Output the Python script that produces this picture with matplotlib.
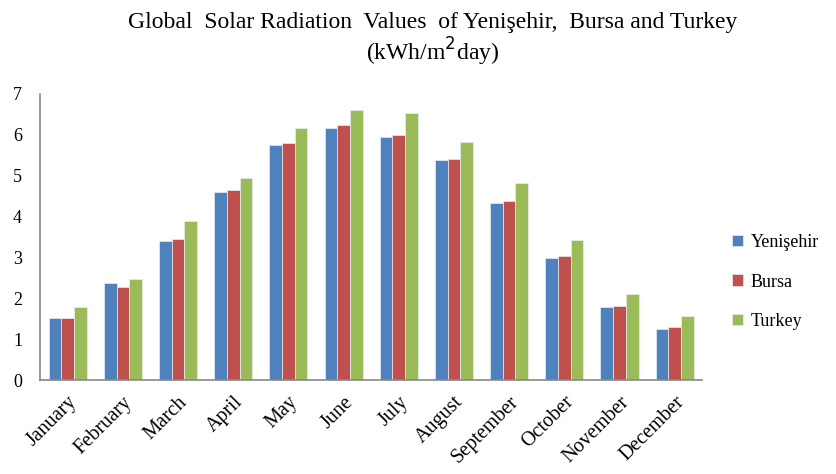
import matplotlib
matplotlib.use("Agg")
import matplotlib.pyplot as plt
import numpy as np

months = ["January", "February", "March", "April", "May", "June", "July",
          "August", "September", "October", "November", "December"]
yenisehir = [1.52, 2.37, 3.41, 4.59, 5.75, 6.16, 5.95, 5.38, 4.32, 2.99, 1.78, 1.25]
bursa     = [1.52, 2.28, 3.46, 4.66, 5.79, 6.23, 6.00, 5.41, 4.37, 3.03, 1.82, 1.29]
turkey    = [1.79, 2.48, 3.90, 4.95, 6.16, 6.60, 6.53, 5.82, 4.81, 3.43, 2.10, 1.57]
series_names = ["Yenişehir", "Bursa", "Turkey"]
colors = ["#4F81BD", "#C0504D", "#9BBB59"]

plt.rcParams['font.family'] = ['Liberation Serif', 'DejaVu Serif']

fig = plt.figure(figsize=(8.36, 4.74), dpi=100)
ax = fig.add_axes([0.048, 0.198, 0.792, 0.604])

x = np.arange(len(months))
w = 0.23
for i, (vals, name, c) in enumerate(zip([yenisehir, bursa, turkey], series_names, colors)):
    ax.bar(x + (i - 1) * w, vals, width=w, color=c, label=name,
           edgecolor="#e8eef5", linewidth=0.5)

ax.set_xlim(-0.5, len(months) - 0.5)
ax.set_ylim(0, 7)
ax.set_yticks(range(0, 8))
ax.set_xticks(x)
ax.set_xticklabels(months, rotation=45, ha="right", rotation_mode="anchor", fontsize=14.5)
ax.tick_params(axis="both", length=0)
ax.tick_params(axis="y", labelsize=13, pad=13)
ax.tick_params(axis="x", pad=9)
for s in ["top", "right"]:
    ax.spines[s].set_visible(False)
for s in ["left", "bottom"]:
    ax.spines[s].set_color("#888888")
    ax.spines[s].set_linewidth(1.2)

fig.text(0.518, 0.953, "Global  Solar Radiation  Values  of Yenişehir,  Bursa and Turkey",
         ha="center", va="center", fontsize=17)
fig.text(0.518, 0.890, "(kWh/m$^{2}$day)", ha="center", va="center", fontsize=17)

leg = fig.legend(loc="center left", bbox_to_anchor=(0.876, 0.405), frameon=False,
                 fontsize=13, handlelength=0.6, handleheight=0.6, handletextpad=0.4,
                 labelspacing=1.25, borderaxespad=0, borderpad=0)

fig.savefig("out.png", dpi=100)
